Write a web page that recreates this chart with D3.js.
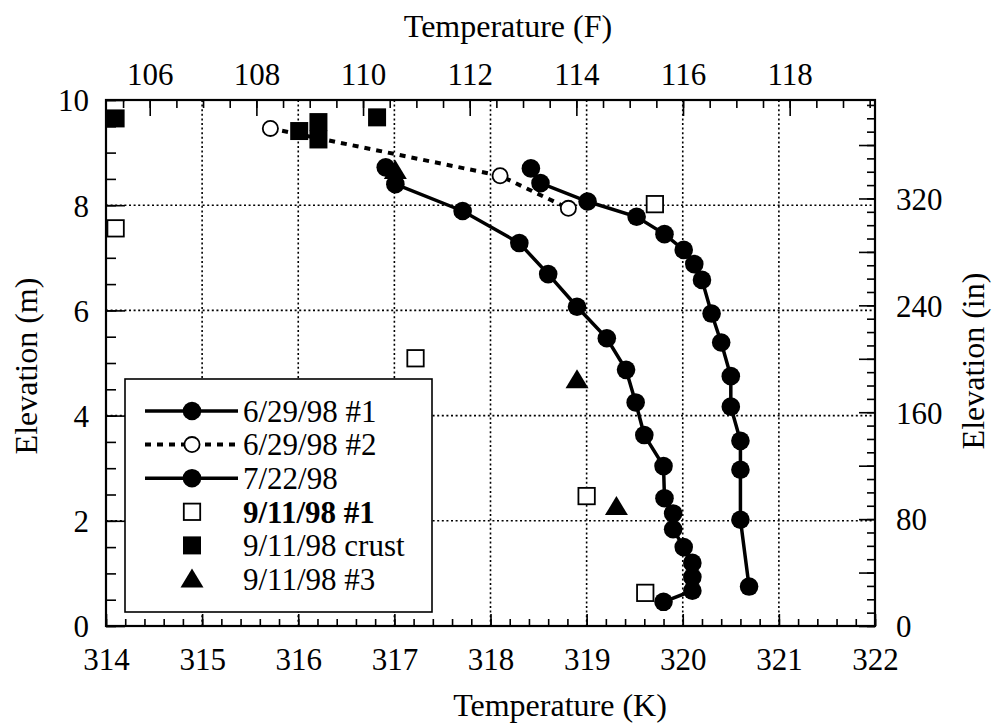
<!DOCTYPE html>
<html><head><meta charset="utf-8">
<script src="https://cdn.jsdelivr.net/npm/d3@7"></script>
<style>
body{margin:0;background:#fff}
text{font-family:"Liberation Serif","Times New Roman",serif;fill:#000}
</style>
</head><body>
<svg id="c" width="994" height="724"></svg>
<script>
// ---- data (Temperature K, Elevation m) ----
const series629a = [[316.91,8.72],[317.01,8.40],[317.71,7.89],[318.30,7.28],[318.60,6.69],[318.90,6.07],[319.21,5.47],[319.41,4.87],[319.51,4.25],[319.60,3.63],[319.80,3.04],[319.81,2.43],[319.90,2.14],[319.90,1.84],[320.01,1.50],[320.10,1.20],[320.10,0.93],[320.10,0.67],[319.80,0.46]];
const series629b = [[315.71,9.46],[318.10,8.56],[318.81,7.94]];
const series722 = [[318.42,8.70],[318.52,8.42],[319.01,8.07],[319.52,7.78],[319.81,7.45],[320.01,7.15],[320.12,6.88],[320.20,6.58],[320.30,5.94],[320.40,5.39],[320.50,4.75],[320.50,4.17],[320.60,3.52],[320.60,2.97],[320.60,2.02],[320.69,0.75]];
const series911a = [[314.10,7.56],[319.71,8.02],[317.22,5.09],[319.00,2.47],[319.61,0.63]];
const series911crust = [[314.10,9.65],[316.01,9.41],[316.21,9.58],[316.21,9.25],[316.82,9.67]];
const series911c = [[317.01,8.66],[318.90,4.68],[319.31,2.27]];
const legendLabels = ["6/29/98 #1","6/29/98 #2","7/22/98","9/11/98 #1","9/11/98 crust","9/11/98 #3"];
const kTicks = [314,315,316,317,318,319,320,321,322];
const fTicks = [106,108,110,112,114,116,118];
const mTicks = [0,2,4,6,8,10];
const inTicks = [0,80,160,240,320];
const kDomain = [314,322], mDomain = [0,10], fDomain = [105.18,119.6], inDomain = [0,393.7];

// ---- layout ----
const L=106,R=875,T=100,B=626;
const svg = d3.select("#c");
const x = d3.scaleLinear().domain(kDomain).range([L,R]);
const y = d3.scaleLinear().domain(mDomain).range([B,T]);
const xF = d3.scaleLinear().domain(fDomain).range([L,R]);
const yIn = d3.scaleLinear().domain(inDomain).range([B,T]);

// gridlines
const grid = svg.append("g").attr("stroke","#000").attr("stroke-width",1.6).attr("stroke-dasharray","2,2.6");
kTicks.slice(1,-1).forEach(k=>grid.append("line").attr("x1",x(k)).attr("x2",x(k)).attr("y1",T).attr("y2",B));
[2,4,6,8].forEach(m=>grid.append("line").attr("x1",L).attr("x2",R).attr("y1",y(m)).attr("y2",y(m)));

function range(a,b,s){const r=[];for(let v=a;v<=b+1e-9;v+=s)r.push(+v.toFixed(4));return r;}
function styleAxis(g){g.select(".domain").remove();g.selectAll("line").attr("stroke","#000").attr("stroke-width",1.6);g.selectAll("text").attr("font-size",31).attr("font-family","Liberation Serif");}

// bottom K axis
svg.append("g").attr("transform",`translate(0,${B})`).call(d3.axisBottom(x).tickValues(range(314,322,0.2)).tickSize(-7).tickFormat("")).call(styleAxis);
const gb = svg.append("g").attr("transform",`translate(0,${B})`).call(d3.axisBottom(x).tickValues(kTicks).tickSize(-12).tickFormat(d3.format("d"))).call(styleAxis);
gb.selectAll("text").attr("y",44).attr("dy",null);
// top F axis
svg.append("g").attr("transform",`translate(0,${T})`).call(d3.axisTop(xF).tickValues(range(105.5,119.5,0.5)).tickSize(-8).tickFormat("")).call(styleAxis);
const gt = svg.append("g").attr("transform",`translate(0,${T})`).call(d3.axisTop(xF).tickValues(fTicks).tickSize(-16).tickFormat(d3.format("d"))).call(styleAxis);
gt.selectAll("text").attr("y",-15).attr("dy",null);
// left m axis
svg.append("g").attr("transform",`translate(${L},0)`).call(d3.axisLeft(y).tickValues(range(0,10,0.5)).tickSize(-10).tickFormat("")).call(styleAxis);
const gl = svg.append("g").attr("transform",`translate(${L},0)`).call(d3.axisLeft(y).tickValues(mTicks).tickSize(-19).tickFormat(d3.format("d"))).call(styleAxis);
gl.selectAll("text").attr("x",-17).attr("dy","0.35em");
// right in axis
svg.append("g").attr("transform",`translate(${R},0)`).call(d3.axisRight(yIn).tickValues(range(0,390,10)).tickSize(-8).tickFormat("")).call(styleAxis);
svg.append("g").attr("transform",`translate(${R},0)`).call(d3.axisRight(yIn).tickValues(range(0,390,40)).tickSize(-16).tickFormat("")).call(styleAxis);
const gr = svg.append("g").attr("transform",`translate(${R},0)`).call(d3.axisRight(yIn).tickValues(inTicks).tickSize(0).tickFormat(d3.format("d"))).call(styleAxis);
gr.selectAll("text").attr("x",21).attr("dy","0.35em");

// frame
svg.append("rect").attr("x",L).attr("y",T).attr("width",R-L).attr("height",B-T).attr("fill","none").attr("stroke","#000").attr("stroke-width",2.2);

// titles
svg.append("text").attr("x",508).attr("y",37).attr("text-anchor","middle").attr("font-size",32).text("Temperature (F)");
svg.append("text").attr("x",560).attr("y",716).attr("text-anchor","middle").attr("font-size",32).text("Temperature (K)");
svg.append("text").attr("transform","translate(37,366) rotate(-90)").attr("text-anchor","middle").attr("font-size",32).text("Elevation (m)");
svg.append("text").attr("transform","translate(984,361) rotate(-90)").attr("text-anchor","middle").attr("font-size",32).text("Elevation (in)");

// lines
const line = d3.line().x(d=>x(d[0])).y(d=>y(d[1]));
svg.append("path").datum(series629b).attr("d",line).attr("fill","none").attr("stroke","#000").attr("stroke-width",4).attr("stroke-dasharray","6,6");
svg.append("path").datum(series629a).attr("d",line).attr("fill","none").attr("stroke","#000").attr("stroke-width",3.5);
svg.append("path").datum(series722).attr("d",line).attr("fill","none").attr("stroke","#000").attr("stroke-width",3.5);

// marker helpers
function filledCircle(g,cx,cy){g.append("circle").attr("cx",cx).attr("cy",cy).attr("r",9.3).attr("fill","#000");}
function openCircle(g,cx,cy){g.append("circle").attr("cx",cx).attr("cy",cy).attr("r",7.6).attr("fill","#fff").attr("stroke","#000").attr("stroke-width",1.8);}
function openSquare(g,cx,cy){g.append("rect").attr("x",cx-8.2).attr("y",cy-8.2).attr("width",16.4).attr("height",16.4).attr("fill","#fff").attr("stroke","#000").attr("stroke-width",1.8);}
function filledSquare(g,cx,cy){g.append("rect").attr("x",cx-9).attr("y",cy-9).attr("width",18).attr("height",18).attr("fill","#000");}
function triangle(g,cx,cy){g.append("path").attr("d",`M${cx},${cy-10.5} L${cx+11.5},${cy+8.5} L${cx-11.5},${cy+8.5} Z`).attr("fill","#000");}

const mk = svg.append("g");
series911crust.forEach(d=>filledSquare(mk,x(d[0]),y(d[1])));
series629b.forEach(d=>openCircle(mk,x(d[0]),y(d[1])));
series629a.forEach(d=>filledCircle(mk,x(d[0]),y(d[1])));
series722.forEach(d=>filledCircle(mk,x(d[0]),y(d[1])));
series911a.forEach(d=>openSquare(mk,x(d[0]),y(d[1])));
series911c.forEach(d=>triangle(mk,x(d[0]),y(d[1])));

// legend
const lg = svg.append("g");
lg.append("rect").attr("x",125).attr("y",379).attr("width",307).attr("height",233).attr("fill","#fff").attr("stroke","#000").attr("stroke-width",1.6);
const rowY = legendLabels.map((_,i)=>411+i*33.6);
const mx = 192;
lg.append("line").attr("x1",145).attr("x2",238).attr("y1",rowY[0]).attr("y2",rowY[0]).attr("stroke","#000").attr("stroke-width",3.5);
filledCircle(lg,mx,rowY[0]);
lg.append("line").attr("x1",145).attr("x2",238).attr("y1",rowY[1]).attr("y2",rowY[1]).attr("stroke","#000").attr("stroke-width",4).attr("stroke-dasharray","6,6");
openCircle(lg,mx,rowY[1]);
lg.append("line").attr("x1",145).attr("x2",238).attr("y1",rowY[2]).attr("y2",rowY[2]).attr("stroke","#000").attr("stroke-width",3.5);
filledCircle(lg,mx,rowY[2]);
openSquare(lg,mx,rowY[3]);
filledSquare(lg,mx,rowY[4]);
triangle(lg,mx,rowY[5]);
legendLabels.forEach((t,i)=>{
  lg.append("text").attr("x",243).attr("y",rowY[i]).attr("dy","0.35em").attr("font-size",31)
    .attr("font-weight",i===3?"bold":"normal").text(t);
});
</script>
</body></html>
